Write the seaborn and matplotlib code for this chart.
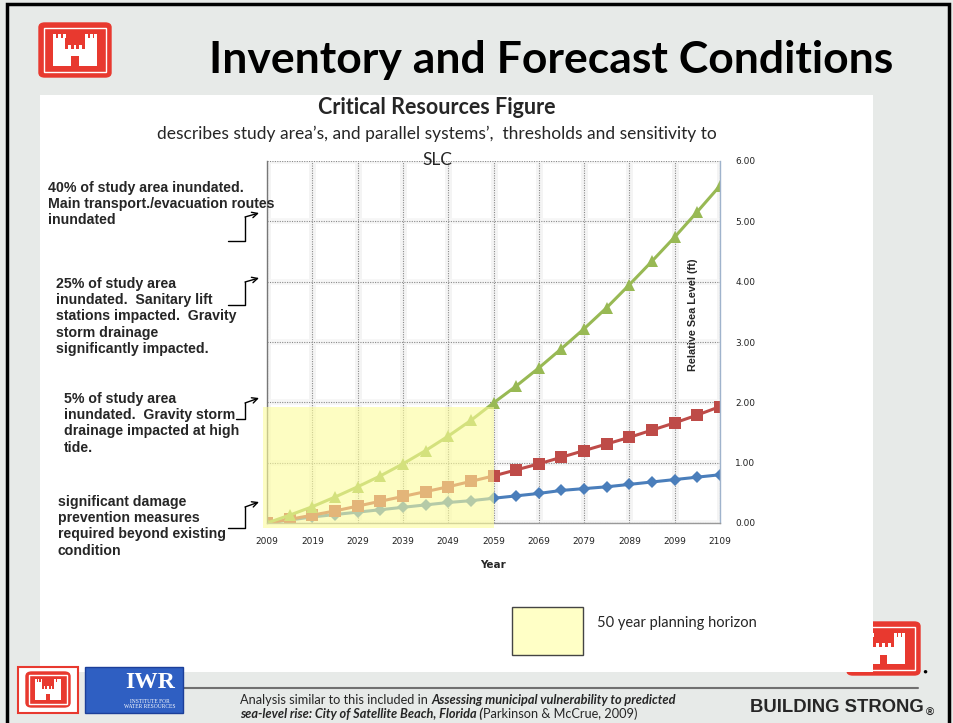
import matplotlib
matplotlib.use("Agg")
import matplotlib.pyplot as plt
from matplotlib.patches import Rectangle, FancyBboxPatch
from matplotlib.lines import Line2D
import seaborn as sns
import pandas as pd

# ---------------- data ----------------
years = [2009, 2014, 2019, 2024, 2029, 2034, 2039, 2044, 2049, 2054, 2059,
         2064, 2069, 2074, 2079, 2084, 2089, 2094, 2099, 2104, 2109]
low = [0.00, 0.05, 0.10, 0.14, 0.18, 0.22, 0.26, 0.30, 0.34, 0.37, 0.41,
       0.45, 0.49, 0.54, 0.57, 0.60, 0.64, 0.68, 0.72, 0.76, 0.80]
intermediate = [0.00, 0.06, 0.13, 0.20, 0.28, 0.36, 0.44, 0.52, 0.60, 0.69, 0.78,
                0.88, 0.98, 1.09, 1.20, 1.31, 1.42, 1.54, 1.66, 1.79, 1.93]
high = [0.00, 0.13, 0.27, 0.43, 0.60, 0.78, 0.98, 1.20, 1.44, 1.70, 1.99,
        2.27, 2.57, 2.89, 3.22, 3.57, 3.95, 4.34, 4.74, 5.16, 5.59]
series_names = ["Low", "Intermediate", "High"]
xticks = [2009, 2019, 2029, 2039, 2049, 2059, 2069, 2079, 2089, 2099, 2109]
yticks = [0, 1, 2, 3, 4, 5, 6]
horizon_start, horizon_end, horizon_top = 2008.2, 2059, 1.93

annotations = [
    "40% of study area inundated.\nMain transport./evacuation routes\ninundated",
    "25% of study area\ninundated.  Sanitary lift\nstations impacted.  Gravity\nstorm drainage\nsignificantly impacted.",
    "5% of study area\ninundated.  Gravity storm\ndrainage impacted at high\ntide.",
    "significant damage\nprevention measures\nrequired beyond existing\ncondition",
]

df = pd.DataFrame({
    "Year": years * 3,
    "Level": low + intermediate + high,
    "Series": [series_names[0]] * len(years) + [series_names[1]] * len(years)
              + [series_names[2]] * len(years),
})

# ---------------- figure ----------------
W, H = 954, 723
sns.set_style("white")
plt.rcParams["font.family"] = ["Liberation Sans", "DejaVu Sans"]
fig = plt.figure(figsize=(W / 100, H / 100), dpi=100)


def P(x, y):
    return (x / W, 1 - y / H)


def rect(x0, y0, x1, y1, **kw):
    r = Rectangle(P(x0, y1), (x1 - x0) / W, (y1 - y0) / H,
                  transform=fig.transFigure, **kw)
    fig.add_artist(r)
    return r


def castle(x0, y0, x1, y1, z):
    w, h = x1 - x0, y1 - y0
    bx = FancyBboxPatch(P(x0, y1), w / W, h / H, boxstyle="round,pad=0,rounding_size=0.006",
                        transform=fig.transFigure, facecolor="#e8392f", edgecolor="#e8392f", zorder=z)
    fig.add_artist(bx)
    ix0, iy0, ix1, iy1 = x0 + 0.07 * w, y0 + 0.09 * h, x1 - 0.07 * w, y1 - 0.09 * h
    rect(ix0, iy0, ix1, iy1, facecolor="none", edgecolor="white", lw=1.0, zorder=z + 0.1)

    def rr(a, b, c, d, col="white"):
        rect(x0 + a * w, y1 - d * h, x0 + c * w, y1 - b * h, facecolor=col, edgecolor="none", zorder=z + 0.2)
    rr(0.2, 0.2, 0.8, 0.52)
    rr(0.2, 0.2, 0.36, 0.72)
    rr(0.64, 0.2, 0.8, 0.72)
    for a in (0.2, 0.265, 0.33):
        rr(a, 0.72, a + 0.04, 0.8)
    for a in (0.64, 0.705, 0.76):
        rr(a, 0.72, a + 0.04, 0.8)
    for a in (0.4, 0.48, 0.56):
        rr(a, 0.52, a + 0.04, 0.6)
    rr(0.45, 0.2, 0.55, 0.38, col="#e8392f")


# slide background
rect(0, 0, W, H, facecolor="#e7eae8", edgecolor="none", zorder=-20)
rect(7, 4, 949, 730, facecolor="none", edgecolor="black", lw=2.5, zorder=-19)
# bottom-right logo (partly behind panel)
castle(847, 622, 920, 675, -15)
fig.text(*P(925, 672), "\u25cf", fontsize=6, color="black", ha="center", va="center", zorder=-14)
# white content panel
rect(40, 95, 873, 672, facecolor="white", edgecolor="none", zorder=-10)

# top logo and title
castle(39, 23, 111, 77, 2)
fig.text(*P(551, 60), "Inventory and Forecast Conditions", fontsize=32, fontweight="bold",
         family=["Lato", "DejaVu Sans"], ha="center", va="center", color="black")

fig.text(*P(437, 107), "Critical Resources Figure", fontsize=15.5, fontweight="bold",
         family=["Lato", "DejaVu Sans"], ha="center", va="center")
fig.text(*P(437, 134), "describes study area\u2019s, and parallel systems\u2019,  thresholds and sensitivity to",
         fontsize=12.5, family=["Lato", "DejaVu Sans"], ha="center", va="center")
fig.text(*P(437, 160), "SLC", fontsize=12.5, family=["Lato", "DejaVu Sans"], ha="center", va="center",
         zorder=5)

# ---------------- axes ----------------
ax_l, ax_r, ax_t, ax_b = 267, 720, 161, 523
ax = fig.add_axes([ax_l / W, 1 - ax_b / H, (ax_r - ax_l) / W, (ax_b - ax_t) / H])
ax.set_facecolor("white")

for v in xticks:
    ax.axvline(v, color="#f4f4f4", lw=5, zorder=0)
for v in yticks:
    ax.axhline(v, color="#f6f6f6", lw=4, zorder=0)
for v in xticks:
    ax.axvline(v, color="#8a8a8a", lw=0.8, ls=(0, (1, 1.2)), zorder=0.5)
for v in yticks:
    ax.axhline(v, color="#8a8a8a", lw=0.8, ls=(0, (1, 1.2)), zorder=0.5)

palette = {"Low": "#4a7ebb", "Intermediate": "#be4b48", "High": "#98b954"}
markers = {"Low": "D", "Intermediate": "s", "High": "^"}
sns.lineplot(data=df, x="Year", y="Level", hue="Series", style="Series",
             palette=palette, markers=markers, dashes=False, lw=2.2,
             markersize=8, markeredgewidth=0, legend=False, ax=ax, zorder=2)
for ln in ax.get_lines():
    m = ln.get_marker()
    if m == "D":
        ln.set_markersize(6)
    elif m == "s":
        ln.set_markersize(8)

ax.add_patch(Rectangle((horizon_start, -0.08), horizon_end - horizon_start, horizon_top + 0.08,
                       facecolor="#fdfd9a", edgecolor="none", alpha=0.6, zorder=3, clip_on=False))

ax.set_xlim(2009, 2109)
ax.set_ylim(0, 6)
ax.set_xticks(xticks)
ax.set_xticklabels([str(v) for v in xticks], family="DejaVu Sans", fontsize=6.5, color="#222222")
ax.set_yticks(yticks)
ax.set_yticklabels([f"{v:.2f}" for v in yticks], family="DejaVu Sans", fontsize=6.5, color="#222222")
ax.yaxis.tick_right()
ax.tick_params(axis="x", length=0, pad=10)
ax.tick_params(axis="y", length=0, pad=11)
ax.set_xlabel("Year", fontsize=7.5, fontweight="bold", family="DejaVu Sans", labelpad=10)
ax.set_ylabel("")
ax.text(0.94, 0.575, "Relative Sea Level (ft)", transform=ax.transAxes, rotation=90,
        fontsize=7.8, fontweight="bold", ha="center", va="center", zorder=4)
ax.spines["top"].set_visible(False)
ax.spines["left"].set_color("#777777")
ax.spines["bottom"].set_color("#999999")
ax.spines["right"].set_color("#9fb3cc")
for s in ["left", "bottom", "right"]:
    ax.spines[s].set_linewidth(1.0)

# ---------------- annotations ----------------
ann_pos = [(48, 181), (56, 277), (64, 392), (58, 495)]
for txt, (x, y) in zip(annotations, ann_pos):
    fig.text(*P(x, y), txt, fontsize=10.2, fontweight="bold", ha="left", va="top",
             linespacing=1.2, zorder=5)

brackets = [(228, 241, 217, 213), (228, 305, 282, 278), (236, 419, 403, 398), (228, 528, 507, 502)]
for x0, yb, yt, ytip in brackets:
    xs = [x0 / W, 245 / W, 245 / W]
    ys = [1 - yb / H, 1 - yb / H, 1 - yt / H]
    fig.add_artist(Line2D(xs, ys, color="black", lw=1.0, transform=fig.transFigure, zorder=5))
    ax.annotate("", xy=P(259, ytip), xycoords="figure fraction",
                xytext=P(245, yt), textcoords="figure fraction",
                arrowprops=dict(arrowstyle="->", color="black", lw=1.0,
                                shrinkA=0, shrinkB=0, mutation_scale=10),
                annotation_clip=False, zorder=5)

# planning horizon key
rect(512, 607, 583, 655, facecolor="#ffffc6", edgecolor="#444444", lw=1.0, zorder=2)
fig.text(*P(597, 623), "50 year planning horizon", fontsize=10.5, family=["Lato", "DejaVu Sans"],
         ha="left", va="center", zorder=5)

# ---------------- footer ----------------
fig.add_artist(Line2D([183 / W, 918 / W], [1 - 688 / H, 1 - 688 / H], color="#707070", lw=1.5,
                      transform=fig.transFigure, zorder=1))
rect(18, 667, 78, 713, facecolor="white", edgecolor="#e8392f", lw=1.5, zorder=2)
castle(26, 672, 70, 707, 2.5)
rect(85, 667, 183, 713, facecolor="#2f5fc2", edgecolor="#1c3f99", lw=1.0, zorder=2)
fig.text(*P(150, 683), "IWR", fontsize=17, fontweight="bold", family=["Liberation Serif", "DejaVu Serif"],
         color="white", ha="center", va="center", zorder=3)
fig.text(*P(150, 704), "INSTITUTE FOR\nWATER RESOURCES", fontsize=4, family=["Liberation Serif", "DejaVu Serif"],
         color="white", ha="center", va="center", zorder=3, linespacing=1.0)

fig.text(*P(750, 708), "BUILDING STRONG", fontsize=13.3, fontweight="bold", ha="left", va="center", zorder=5)
fig.text(*P(926, 713), "\u00ae", fontsize=8, fontweight="bold", ha="left", va="center", zorder=5)

fig.canvas.draw()
renderer = fig.canvas.get_renderer()


def run(x, y, parts):
    cx = x
    for s, style in parts:
        t = fig.text(cx / W, 1 - y / H, s, fontsize=9.2, family=["Lato", "DejaVu Sans"],
                     fontweight="bold" if "b" in style else "normal",
                     fontstyle="italic" if "i" in style else "normal",
                     ha="left", va="center", zorder=5)
        bb = t.get_window_extent(renderer)
        cx += bb.width


run(240, 700, [("Analysis similar to this included in ", ""),
               ("Assessing municipal vulnerability to predicted", "bi")])
run(240, 714, [("sea-level rise: City of Satellite Beach, Florida (", "bi"),
               ("Parkinson & McCrue, 2009)", "")])

fig.savefig("out.png", dpi=100)
